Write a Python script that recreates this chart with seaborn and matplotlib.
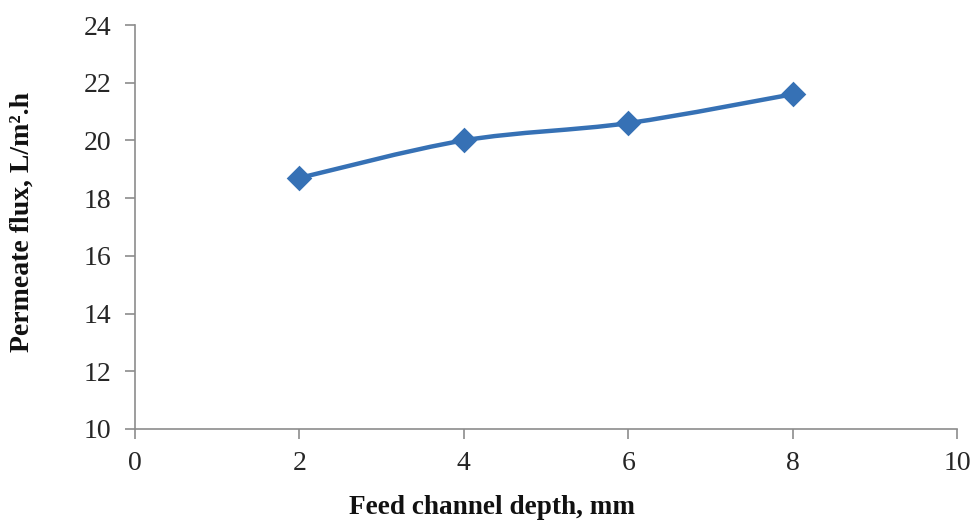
import numpy as np
import matplotlib
matplotlib.use("Agg")
import matplotlib.pyplot as plt
from matplotlib.path import Path
from matplotlib.patches import PathPatch
import seaborn as sns
import pandas as pd

# data
depth_mm = [2, 4, 6, 8]
flux = [18.7, 20.0, 20.6, 21.6]

x_ticks = [0, 2, 4, 6, 8, 10]
y_ticks = [10, 12, 14, 16, 18, 20, 22, 24]

line_color = "#3671B5"
axis_color = "#8C8C8C"

sns.set_theme(style="white")
plt.rcParams["font.family"] = ["Liberation Serif", "DejaVu Serif"]

df = pd.DataFrame({"depth": depth_mm, "flux": flux})

fig = plt.figure(figsize=(9.71, 5.21), dpi=100)
ax = fig.add_axes([135 / 971, 1 - 429 / 521, (957 - 135) / 971, (429 - 25) / 521])

# smoothed line like Excel's "smoothed line" option (cubic bezier through the points)
pts = df[["depth", "flux"]].to_numpy(dtype=float)
verts = [tuple(pts[0])]
codes = [Path.MOVETO]
n = len(pts)
for i in range(n - 1):
    p_prev = pts[i - 1] if i > 0 else pts[i]
    p0, p1 = pts[i], pts[i + 1]
    p_next = pts[i + 2] if i + 2 < n else pts[i + 1]
    c1 = p0 + (p1 - p_prev) / 6
    c2 = p1 - (p_next - p0) / 6
    verts += [tuple(c1), tuple(c2), tuple(p1)]
    codes += [Path.CURVE4] * 3
ax.add_patch(PathPatch(Path(verts, codes), facecolor="none", edgecolor=line_color,
                       lw=3.2, capstyle="round", joinstyle="round", zorder=2))

sns.scatterplot(data=df, x="depth", y="flux", marker="D", s=170, color=line_color,
                edgecolor=line_color, linewidth=0, ax=ax, zorder=3)

ax.set_xlim(0, 10)
ax.set_ylim(10, 24)
ax.set_xticks(x_ticks)
ax.set_yticks(y_ticks)
ax.tick_params(axis="both", labelsize=20, colors="#262626", length=7, width=1.2,
               direction="out", color=axis_color)
ax.tick_params(axis="x", pad=9)
ax.tick_params(axis="y", pad=10)
ax.xaxis.set_ticks_position("bottom")
ax.yaxis.set_ticks_position("left")

for side in ["top", "right"]:
    ax.spines[side].set_visible(False)
for side in ["left", "bottom"]:
    ax.spines[side].set_color(axis_color)
    ax.spines[side].set_linewidth(1.2)

ax.set_xlabel("")
ax.set_ylabel("")
fig.text(492 / 971, 1 - 507 / 521, "Feed channel depth, mm", ha="center", va="center",
         fontsize=19.6, fontweight="bold", color="#111111")
fig.text(22 / 971, 1 - 222 / 521, "Permeate flux, L/m\u00b2.h", ha="center", va="center",
         rotation=90, fontsize=20, fontweight="bold", color="#111111")

fig.savefig("out.png", dpi=100, facecolor="white")
